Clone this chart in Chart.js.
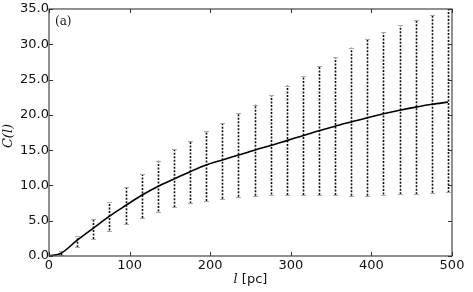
<!DOCTYPE html>
<html>
<head>
<meta charset="utf-8">
<script src="https://cdn.jsdelivr.net/npm/chart.js@4.4.1/dist/chart.umd.min.js"></script>
<style>
html, body { margin: 0; padding: 0; background: #fff; }
</style>
</head>
<body>
<canvas id="chart" width="473" height="292"></canvas>
<script>
// separation l [pc] where C(l) was sampled
const lValues = [15, 35, 55, 75, 95, 115, 135, 155, 175, 195, 215, 235, 255,
                 275, 295, 315, 335, 355, 375, 395, 415, 435, 455, 475, 495];
// mean C(l)
const meanValues = [0.4, 2.25, 3.95, 5.65, 7.15, 8.6, 9.85, 10.9, 11.95, 12.9, 13.6, 14.3, 15.0,
                    15.65, 16.35, 17.05, 17.75, 18.4, 19.0, 19.6, 20.15, 20.65, 21.1, 21.5, 21.8];
// error bar ends
const upperValues = [0.7, 2.8, 5.2, 7.65, 9.8, 11.6, 13.5, 15.1, 16.3, 17.7, 18.9, 20.2, 21.45,
                     22.8, 24.15, 25.5, 26.9, 28.2, 29.5, 30.7, 31.7, 32.7, 33.5, 34.1, 35.5];
const lowerValues = [0.15, 1.25, 2.4, 3.6, 4.5, 5.4, 6.3, 6.9, 7.45, 7.8, 8.1, 8.4, 8.55,
                     8.7, 8.65, 8.65, 8.65, 8.65, 8.55, 8.55, 8.7, 8.75, 8.75, 8.95, 9.0];
const xTicks = [0, 100, 200, 300, 400, 500];
const yTicks = [0, 5, 10, 15, 20, 25, 30, 35];

// line starts at the origin
const linePoints = [{ x: 0, y: 0 }].concat(lValues.map((l, i) => ({ x: l, y: meanValues[i] })));

// dotted error bars, drawn under the line
const errorBars = {
    id: 'errorBars',
    beforeDatasetsDraw(chart) {
        const ctx = chart.ctx;
        const xs = chart.scales.x, ys = chart.scales.y;
        const area = chart.chartArea;
        ctx.save();
        ctx.beginPath();
        ctx.rect(area.left, area.top, area.right - area.left, area.bottom - area.top);
        ctx.clip();
        lValues.forEach((l, i) => {
            const px = Math.round(xs.getPixelForValue(l)) + 0.5;
            const yTop = ys.getPixelForValue(upperValues[i]);
            const yBot = ys.getPixelForValue(lowerValues[i]);
            ctx.strokeStyle = '#111';
            ctx.lineWidth = 1.6;
            ctx.setLineDash([2, 1.5]);
            ctx.beginPath();
            ctx.moveTo(px, yBot);
            ctx.lineTo(px, yTop);
            ctx.stroke();
            // small caps
            ctx.setLineDash([]);
            ctx.strokeStyle = '#aaa';
            ctx.lineWidth = 1;
            ctx.beginPath();
            ctx.moveTo(px - 2.5, Math.round(yTop) + 0.5);
            ctx.lineTo(px + 2.5, Math.round(yTop) + 0.5);
            ctx.moveTo(px - 2.5, Math.round(yBot) + 0.5);
            ctx.lineTo(px + 2.5, Math.round(yBot) + 0.5);
            ctx.stroke();
        });
        ctx.restore();
    }
};

// box, inward ticks, axis titles and panel label
const frame = {
    id: 'frame',
    afterDraw(chart) {
        const ctx = chart.ctx;
        const xs = chart.scales.x, ys = chart.scales.y;
        const a = chart.chartArea;
        ctx.save();
        ctx.strokeStyle = '#555';
        ctx.lineWidth = 1.3;
        ctx.strokeRect(a.left, a.top, a.right - a.left, a.bottom - a.top);
        ctx.lineWidth = 1;
        ctx.strokeStyle = '#333';
        ctx.beginPath();
        xTicks.forEach(v => {
            const px = Math.round(xs.getPixelForValue(v)) + 0.5;
            ctx.moveTo(px, a.bottom); ctx.lineTo(px, a.bottom - 4);
            ctx.moveTo(px, a.top); ctx.lineTo(px, a.top + 4);
        });
        yTicks.forEach(v => {
            const py = Math.round(ys.getPixelForValue(v)) + 0.5;
            ctx.moveTo(a.left, py); ctx.lineTo(a.left + 4, py);
            ctx.moveTo(a.right, py); ctx.lineTo(a.right - 4, py);
        });
        ctx.stroke();

        ctx.fillStyle = '#111';
        ctx.textBaseline = 'middle';
        // x title: italic l + [pc]
        const cx = (a.left + a.right) / 2;
        ctx.font = 'italic 13px "DejaVu Serif"';
        const wl = ctx.measureText('l').width;
        ctx.font = '13px "DejaVu Sans"';
        const wp = ctx.measureText(' [pc]').width;
        const x0 = cx - (wl + wp) / 2;
        ctx.textAlign = 'left';
        ctx.font = 'italic 13px "DejaVu Serif"';
        ctx.fillText('l', x0, 280);
        ctx.font = '13px "DejaVu Sans"';
        ctx.fillText(' [pc]', x0 + wl, 280);

        // y title
        ctx.save();
        ctx.translate(9, 136);
        ctx.rotate(-Math.PI / 2);
        ctx.textAlign = 'center';
        ctx.font = 'italic 13px "DejaVu Serif"';
        ctx.fillText('C(l)', 0, 0);
        ctx.restore();

        // panel label
        ctx.textAlign = 'left';
        ctx.font = '12px "DejaVu Serif"';
        ctx.fillText('(a)', a.left + 6, a.top + 13);
        ctx.restore();
    }
};

new Chart(document.getElementById('chart').getContext('2d'), {
    type: 'line',
    data: {
        datasets: [{
            data: linePoints,
            borderColor: '#000',
            borderWidth: 1.6,
            pointRadius: 0,
            cubicInterpolationMode: 'monotone',
            fill: false
        }]
    },
    options: {
        responsive: false,
        animation: false,
        devicePixelRatio: 1,
        layout: { padding: { top: 9, right: 21, left: 0, bottom: 0 } },
        plugins: { legend: { display: false }, tooltip: { enabled: false } },
        scales: {
            x: {
                type: 'linear',
                min: 0,
                max: 500,
                grid: { display: false, drawTicks: false },
                border: { display: false },
                afterFit: s => { s.height = 36; },
                afterBuildTicks: s => { s.ticks = xTicks.map(v => ({ value: v })); },
                ticks: {
                    padding: 2,
                    color: '#111',
                    font: { family: 'DejaVu Sans', size: 13 },
                    maxRotation: 0,
                    callback: v => String(v)
                }
            },
            y: {
                min: 0,
                max: 35,
                grid: { display: false, drawTicks: false },
                border: { display: false },
                afterFit: s => { s.width = 49; },
                afterBuildTicks: s => { s.ticks = yTicks.map(v => ({ value: v })); },
                ticks: {
                    padding: 0,
                    color: '#111',
                    font: { family: 'DejaVu Sans', size: 13 },
                    callback: v => v.toFixed(1)
                }
            }
        }
    },
    plugins: [errorBars, frame]
});
</script>
</body>
</html>
